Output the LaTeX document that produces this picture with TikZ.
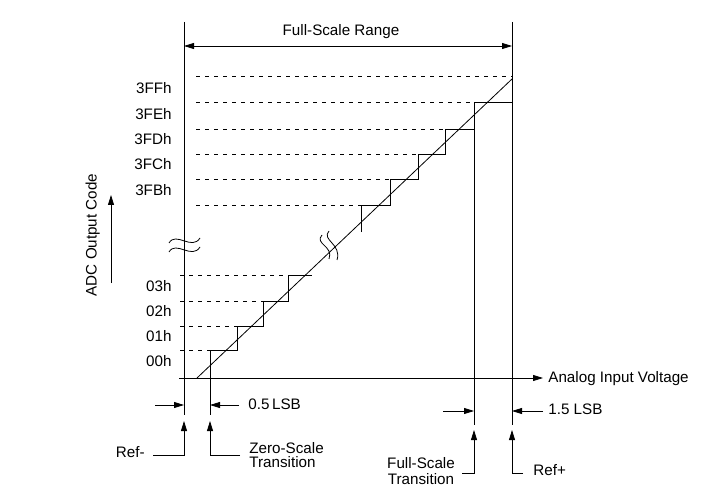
\documentclass[tikz,border=0pt]{standalone}
\usepackage{fontspec}
\setmainfont{Liberation Sans}
\usetikzlibrary{arrows.meta}

\begin{document}
\begin{tikzpicture}[x=1pt, y=-1pt, line width=0.8pt,
  font=\fontsize{15.2}{16}\selectfont,
  tip/.style={-{Triangle[length=10pt,width=6pt]}},
  tips/.style={{Triangle[length=10pt,width=6pt]}-{Triangle[length=10pt,width=6pt]}},
  grid/.style={dash pattern=on 4pt off 5pt, line width=0.7pt},
  lbl/.style={inner sep=0pt, text height=0.72em, text depth=0pt}]

  \useasboundingbox (0,0) rectangle (718,492);

  % -- Reference lines --
  \coordinate (refm) at (184,378);
  \coordinate (zst) at (210,378);
  \coordinate (fst) at (474,378);
  \coordinate (refp) at (512,378);
  \draw (184,22) -- (184,415);
  \draw (512,22) -- (512,425);
  \draw (474,102) -- (474,425);
  \draw (210,350) -- (210,415);

  % -- Full-scale range --
  \node[lbl] (fsr) at (341,32) {Full-Scale Range};
  \draw[tips] (184,46) -- (512,46);

  % -- Code levels --
  \foreach \y/\e in {76/512, 102/474, 129/445, 154/418, 179/390, 205/361}
    \draw[grid] (196,\y) -- (\e,\y);
  \foreach \y/\e in {275/288, 301/263, 326/237, 350/210}
    \draw[grid] (180,\y) -- (\e,\y);
  \foreach \y/\t [count=\i] in {90/3FFh, 116/3FEh, 141/3FDh, 166/3FCh, 192/3FBh,
                                288/03h, 313/02h, 338/01h, 363/00h}
    \node[lbl, anchor=east] (code\i) at (172,\y) {\t};

  % -- Transfer steps --
  \draw (210,378) -- (210,350) -- (237,350) -- (237,326) -- (263,326)
    -- (263,301) -- (288,301) -- (288,275) -- (312,275);
  \draw (361,232) -- (361,205) -- (390,205) -- (390,179) -- (418,179)
    -- (418,154) -- (445,154) -- (445,129) -- (474,129) -- (474,102) -- (512,102);

  % -- Ideal line --
  \draw (197,378) -- (512,79);

  % -- Breaks --
  \draw (169,243) .. controls (176,231) and (192,251) .. (200,238);
  \draw (169,252) .. controls (176,240) and (192,260) .. (200,247);
  \draw (322,235) .. controls (314,244) and (334,246) .. (329,259);
  \draw (329,231) .. controls (321,240) and (342,244) .. (337,260);

  % -- Axes --
  \node[lbl, anchor=west] (xlab) at (548,379) {Analog Input Voltage};
  \draw[tip] (179,378) -- (543,378);
  \node[lbl, rotate=90] (ylab) at (93,235) {ADC Output Code};
  \draw[tip] (111,283) -- (111,195);

  % -- LSB offsets --
  \node[lbl, anchor=west] (lsbz) at (248,406) {0.5\,LSB};
  \draw[tip] (155,405) -- (184,405);
  \draw[tip] (239,405) -- (210,405);
  \node[lbl, anchor=west] (lsbf) at (548,411) {1.5 LSB};
  \draw[tip] (443,411) -- (474,411);
  \draw[tip] (543,411) -- (512,411);

  % -- Callouts --
  \node[lbl, anchor=east] (rm) at (145,454) {Ref-};
  \draw[tip] (153,455) -| (184,421);
  \node[inner sep=0pt, anchor=north west, align=left,
        font=\fontsize{15.2}{14.5}\selectfont] (zs) at (249,442) {Zero-Scale\\Transition};
  \draw[tip] (240,455) -| (210,421);
  \node[inner sep=0pt, anchor=north, align=center,
        font=\fontsize{15.2}{16.5}\selectfont] (fs) at (421,457) {Full-Scale\\Transition};
  \draw[tip] (462,473) -| (474,430);
  \node[lbl, anchor=west] (rp) at (533,472) {Ref+};
  \draw[tip] (523,473) -| (512,430);

\end{tikzpicture}
\end{document}
